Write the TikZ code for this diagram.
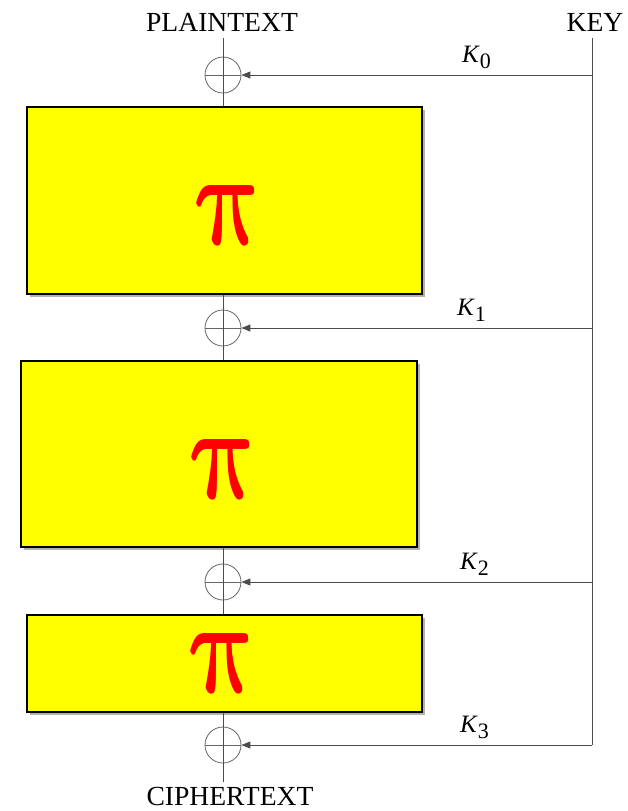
\documentclass[tikz,border=0pt]{standalone}
\usepackage{fontspec}
\setmainfont{Liberation Serif}
\usetikzlibrary{arrows.meta,shadows}
\definecolor{pyellow}{RGB}{255,255,0}
\definecolor{pred}{RGB}{255,0,0}
\newcommand{\ksub}[1]{\textit{K}\raisebox{-6pt}{\fontsize{22}{22}\selectfont\upshape #1}}
\newcommand{\pibase}{\scalebox{10.9}[13.2]{$\pi$}}
\newcommand{\pisign}{\rlap{\pibase}\rlap{\hspace{1.5pt}\pibase}\rlap{\raisebox{1.2pt}{\pibase}}\hspace{1.5pt}\raisebox{1.2pt}{\pibase}}
\begin{document}
\begin{tikzpicture}[x=1pt,y=-1pt,
  box/.style={draw=black, line width=1.5pt, fill=pyellow, inner sep=0pt,
    drop shadow={shadow xshift=2.5pt,shadow yshift=-2.5pt,fill=black,opacity=.3}},
  pisym/.style={text=pred, font=\fontsize{10}{12}\selectfont, inner sep=0pt, transform shape},
  xor/.style={circle, draw=black!60, line width=0.8pt, minimum size=36pt, inner sep=0pt,
    path picture={\draw[black!60, line width=0.8pt] (path picture bounding box.west) -- (path picture bounding box.east);}},
  wire/.style={draw=black!70, line width=0.9pt},
  keyarrow/.style={wire, -{Triangle[length=9pt,width=7pt]}},
  lbl/.style={font=\fontsize{27.6}{30}\selectfont, inner sep=0pt, anchor=base},
  klbl/.style={font=\fontsize{25}{27}\selectfont, inner sep=0pt, anchor=base west}]
\useasboundingbox (0,0) rectangle (627,811);

% labels
\node[lbl] (pt) at (222,31) {PLAINTEXT};
\node[lbl] (key) at (595,31) {KEY};
\node[lbl] (ct) at (230,805) {CIPHERTEXT};

% boxes
\node[box, minimum width=395pt, minimum height=187pt] (b1) at (224.5,200.5) {};
\node[box, minimum width=396pt, minimum height=186pt] (b2) at (219,454) {};
\node[box, minimum width=395pt, minimum height=97pt] (b3) at (224.5,663.5) {};
\begin{scope}[shift={(230,215)}, xslant=-0.2]
  \node[pisym] (p1) at (0,0) {\pisign};
\end{scope}
\begin{scope}[shift={(225,469)}, xslant=-0.2]
  \node[pisym] (p2) at (0,0) {\pisign};
\end{scope}
\begin{scope}[shift={(224,663)}, xslant=-0.2]
  \node[pisym] (p3) at (0,0) {\pisign};
\end{scope}

% xor circles
\node[xor] (x0) at (223,75) {};
\node[xor] (x1) at (223,328) {};
\node[xor] (x2) at (223,582) {};
\node[xor] (x3) at (223,745) {};

% data path
\coordinate (pin) at (223,38);
\coordinate (cout) at (223,782);
\draw[wire] (pin) -- (x0.north);
\draw[wire] (x0.south) -- (x0.south |- b1.north);
\draw[wire] (x1.north |- b1.south) -- (x1.north);
\draw[wire] (x1.south) -- (x1.south |- b2.north);
\draw[wire] (x2.north |- b2.south) -- (x2.north);
\draw[wire] (x2.south) -- (x2.south |- b3.north);
\draw[wire] (x3.north |- b3.south) -- (x3.north);
\draw[wire] (x3.south) -- (cout);
\draw[wire] (x0.north) -- (x0.south);
\draw[wire] (x1.north) -- (x1.south);
\draw[wire] (x2.north) -- (x2.south);
\draw[wire] (x3.north) -- (x3.south);

% key path
\coordinate (ktop) at (592,38);
\coordinate (k0) at (592,75);
\coordinate (k1) at (592,328);
\coordinate (k2) at (592,582);
\coordinate (k3) at (592,745);
\draw[wire] (ktop) -- (k3);
\draw[keyarrow] (k0) -- (x0);
\draw[keyarrow] (k1) -- (x1);
\draw[keyarrow] (k2) -- (x2);
\draw[keyarrow] (k3) -- (x3);

% key labels
\node[klbl] (l0) at (462,62) {\ksub{0}};
\node[klbl] (l1) at (457,315) {\ksub{1}};
\node[klbl] (l2) at (460,569) {\ksub{2}};
\node[klbl] (l3) at (460,732) {\ksub{3}};
\end{tikzpicture}
\end{document}
